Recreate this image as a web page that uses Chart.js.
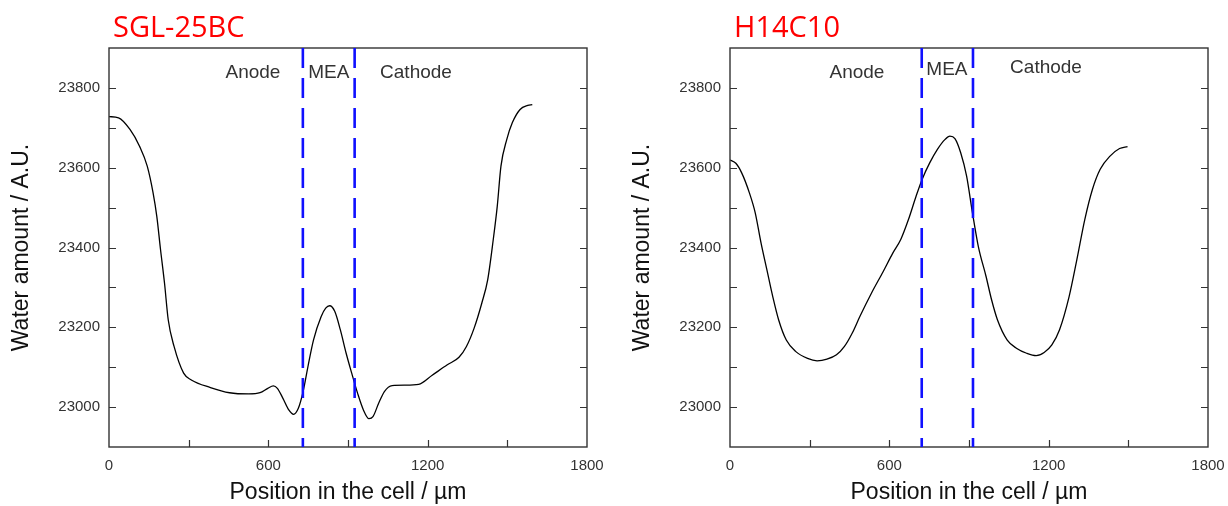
<!DOCTYPE html>
<html>
<head>
<meta charset="utf-8">
<script src="https://cdn.jsdelivr.net/npm/chart.js@4.4.1/dist/chart.umd.min.js"></script>
<style>
  html, body { margin: 0; padding: 0; background: #fff; }
  #wrap { position: relative; width: 1228px; height: 506px; overflow: hidden; }
  canvas { position: absolute; top: 0; }
</style>
</head>
<body>
<div id="wrap">
  <canvas id="left" width="607" height="506" style="left:0px"></canvas>
  <canvas id="right" width="607" height="506" style="left:621px"></canvas>
</div>
<script>
// SGL-25BC profile (position in um, water amount in A.U.)
var sglX = [0, 36, 79, 115, 144, 166, 180, 194, 209, 223, 245, 281, 310, 382, 454, 526, 569, 598, 619, 634, 655, 677, 695, 713, 732, 749, 770, 799, 816, 831, 850, 871, 893, 914, 936, 958, 979, 994, 1015, 1037, 1066, 1116, 1166, 1217, 1274, 1318, 1346, 1375, 1404, 1426, 1447, 1462, 1476, 1498, 1519, 1548, 1577, 1594];
var sglY = [23728, 23725, 23696, 23654, 23604, 23537, 23478, 23395, 23311, 23219, 23152, 23085, 23068, 23049, 23036, 23033, 23036, 23047, 23053, 23047, 23022, 22993, 22982, 22997, 23042, 23101, 23168, 23227, 23248, 23254, 23240, 23194, 23135, 23085, 23035, 22993, 22971, 22976, 23009, 23039, 23054, 23055, 23057, 23080, 23106, 23125, 23152, 23198, 23261, 23319, 23420, 23503, 23604, 23671, 23713, 23746, 23756, 23758];

// H14C10 profile
var hX = [0, 22, 44, 73, 95, 117, 139, 161, 183, 212, 248, 292, 328, 365, 401, 431, 460, 489, 533, 577, 613, 643, 672, 701, 723, 752, 781, 810, 828, 847, 869, 891, 913, 935, 964, 985, 1007, 1044, 1080, 1117, 1153, 1183, 1212, 1241, 1277, 1306, 1336, 1365, 1394, 1431, 1467, 1497];
var hY = [23619, 23611, 23587, 23537, 23487, 23411, 23344, 23277, 23219, 23168, 23139, 23122, 23116, 23120, 23131, 23152, 23185, 23227, 23286, 23340, 23386, 23420, 23470, 23529, 23570, 23612, 23646, 23671, 23679, 23673, 23637, 23579, 23487, 23403, 23328, 23269, 23219, 23168, 23147, 23135, 23129, 23137, 23156, 23194, 23277, 23369, 23470, 23546, 23596, 23629, 23648, 23653];

// MEA boundaries (um)
var sglMEA = [730, 925];
var hMEA = [722, 915];

// axes
var xTickLabels = [0, 600, 1200, 1800];
var xTickMarks = [300, 600, 900, 1200, 1500];
var yTickLabels = [23000, 23200, 23400, 23600, 23800];
var yTickMarks = [23000, 23100, 23200, 23300, 23400, 23500, 23600, 23700, 23800];
var regionNames = ['Anode', 'MEA', 'Cathode'];

var FONT = '"Liberation Sans", Arial, sans-serif';

// frame, inward ticks, MEA lines, panel title and region names
var decor = {
    id: 'decor',
    afterDatasetsDraw: function(chart, args, o) {
        var ctx = chart.ctx, a = chart.chartArea;
        var xs = chart.scales.x, ys = chart.scales.y;
        ctx.save();

        ctx.strokeStyle = '#333';
        ctx.lineWidth = 1.4;
        ctx.strokeRect(a.left, a.top, a.right - a.left, a.bottom - a.top);

        ctx.lineWidth = 1.2;
        ctx.beginPath();
        yTickMarks.forEach(function(v) {
            var py = Math.round(ys.getPixelForValue(v)) + 0.5;
            ctx.moveTo(a.left, py); ctx.lineTo(a.left + 7, py);
            ctx.moveTo(a.right, py); ctx.lineTo(a.right - 7, py);
        });
        xTickMarks.forEach(function(v) {
            var px = Math.round(xs.getPixelForValue(v)) + 0.5;
            ctx.moveTo(px, a.bottom); ctx.lineTo(px, a.bottom - 7);
        });
        ctx.stroke();

        ctx.strokeStyle = '#1010ff';
        ctx.lineWidth = 2.6;
        ctx.setLineDash([20, 10]);
        o.mea.forEach(function(v) {
            var px = xs.getPixelForValue(v);
            ctx.beginPath();
            ctx.moveTo(px, a.top); ctx.lineTo(px, a.bottom);
            ctx.stroke();
        });
        ctx.setLineDash([]);

        ctx.fillStyle = '#333';
        ctx.font = '19px ' + FONT;
        ctx.textAlign = 'center';
        ctx.textBaseline = 'middle';
        o.notes.forEach(function(n, i) {
            ctx.fillText(regionNames[i], xs.getPixelForValue(n[0]), ys.getPixelForValue(n[1]));
        });

        ctx.fillStyle = '#ff0000';
        ctx.font = '29px "Open Sans", sans-serif';
        ctx.textAlign = 'left';
        ctx.textBaseline = 'alphabetic';
        ctx.fillText(o.title, a.left + 4, 37);
        ctx.restore();
    }
};

function plain(v) { return String(v); }

function makeChart(id, title, xv, yv, mea, notes) {
    var pts = xv.map(function(x, i) { return {x: x, y: yv[i]}; });
    return new Chart(document.getElementById(id).getContext('2d'), {
        type: 'line',
        data: {
            datasets: [{
                data: pts,
                borderColor: '#000',
                borderWidth: 1.3,
                pointRadius: 0,
                fill: false,
                cubicInterpolationMode: 'monotone'
            }]
        },
        plugins: [decor],
        options: {
            responsive: false,
            animation: false,
            devicePixelRatio: 1,
            layout: {padding: {top: 48, right: 20, left: 0, bottom: 0}},
            plugins: {
                legend: {display: false},
                tooltip: {enabled: false},
                decor: {title: title, mea: mea, notes: notes}
            },
            scales: {
                x: {
                    type: 'linear',
                    min: 0, max: 1800,
                    afterBuildTicks: function(s) { s.ticks = xTickLabels.map(function(v) { return {value: v}; }); },
                    afterFit: function(s) { s.height = 59; s.paddingLeft = 0; s.paddingRight = 0; },
                    grid: {display: false, drawTicks: false},
                    border: {display: false},
                    ticks: {padding: 10, color: '#333', font: {size: 15, family: FONT}, maxRotation: 0, autoSkip: false, callback: plain},
                    title: {display: true, text: 'Position in the cell / µm', color: '#111',
                        font: {size: 23, family: FONT}, padding: {top: 0, bottom: 0}}
                },
                y: {
                    type: 'linear',
                    min: 22900, max: 23900,
                    afterBuildTicks: function(s) { s.ticks = yTickLabels.map(function(v) { return {value: v}; }); },
                    afterFit: function(s) { s.width = 109; s.paddingTop = 0; s.paddingBottom = 0; },
                    grid: {display: false, drawTicks: false},
                    border: {display: false},
                    ticks: {padding: 9, color: '#333', font: {size: 15, family: FONT}, autoSkip: false, callback: plain},
                    title: {display: true, text: 'Water amount / A.U.', color: '#111',
                        font: {size: 23, family: FONT}, padding: {top: 8, bottom: 0}}
                }
            }
        }
    });
}

makeChart('left', 'SGL-25BC', sglX, sglY, sglMEA, [[542, 23838], [828, 23838], [1156, 23838]]);
makeChart('right', 'H14C10', hX, hY, hMEA, [[478, 23838], [817, 23845], [1190, 23850]]);
</script>
</body>
</html>
